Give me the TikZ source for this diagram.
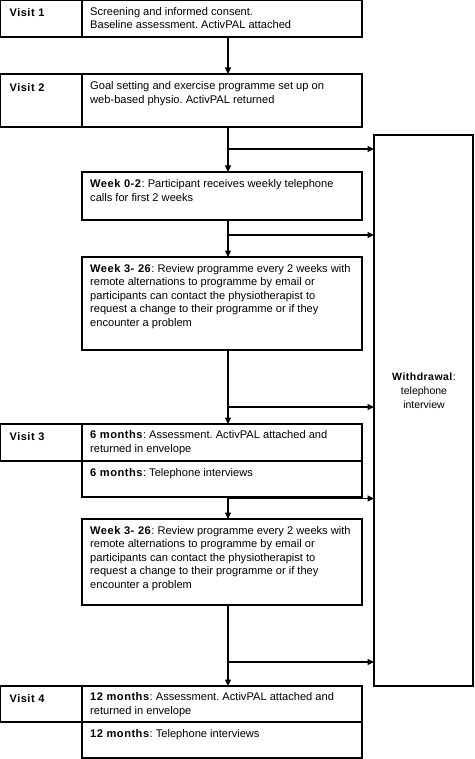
\documentclass[tikz,border=0pt]{standalone}
\usepackage{fontspec}
\setmainfont{Liberation Sans}[BoldFeatures={LetterSpace=4.5}]
\usetikzlibrary{arrows.meta}
\frenchspacing
\begin{document}
\begin{tikzpicture}[x=1pt,y=-1pt,
  box/.style 2 args={draw, line width=1.2pt, anchor=north west, inner sep=0pt, outer sep=0pt, minimum width=#1pt, minimum height=#2pt},
  txt/.style={anchor=north west, inner sep=0pt, align=left, font=\fontsize{11.1}{13.5}\selectfont},
  lab/.style={anchor=north west, inner sep=0pt, font=\fontsize{11}{13}\selectfont\bfseries},
  arr/.style={-{Triangle[length=6.5pt,width=6pt]}, line width=1.5pt}]
\useasboundingbox (0,0) rectangle (474,759);
% boxes
\node[box={81.5}{36.5}] (v1lab) at (0.5,0.5) {};
\node[box={280}{36.5}] (v1) at (82,0.5) {};
\node[box={81.5}{53}] (v2lab) at (0.5,74) {};
\node[box={280}{53}] (v2) at (82,74) {};
\node[box={280}{48}] (w02) at (82,172) {};
\node[box={280}{93}] (w3a) at (82,257) {};
\node[box={81.5}{37}] (v3lab) at (0.5,424) {};
\node[box={280}{37}] (v3a) at (82,424) {};
\node[box={280}{36}] (v3b) at (82,461) {};
\node[box={280}{86}] (w3b) at (82,519) {};
\node[box={81.5}{36}] (v4lab) at (0.5,686) {};
\node[box={280}{36}] (v4a) at (82,686) {};
\node[box={280}{36}] (v4b) at (82,722) {};
\node[box={99}{551}] (wd) at (374,135) {};
% texts
\node[lab] (t1l) at ([shift={(9,8)}]v1lab.north west) {Visit 1};
\node[txt] (t1) at ([shift={(8,6.5)}]v1.north west) {Screening and informed consent.\\Baseline assessment. ActivPAL attached};
\node[lab] (t2l) at ([shift={(9,9)}]v2lab.north west) {Visit 2};
\node[txt] (t2) at ([shift={(8,7.5)}]v2.north west) {Goal setting and exercise programme set up on\\web-based physio. ActivPAL returned};
\node[txt] (t3) at ([shift={(8,7.5)}]w02.north west) {\textbf{Week 0-2}: Participant receives weekly telephone\\calls for first 2 weeks};
\node[txt] (t4) at ([shift={(8,7)}]w3a.north west) {\textbf{Week 3- 26}: Review programme every 2 weeks with\\remote alternations to programme by email or\\participants can contact the physiotherapist to\\request a change to their programme or if they\\encounter a problem};
\node[lab] (t5l) at ([shift={(9,8)}]v3lab.north west) {Visit 3};
\node[txt] (t5) at ([shift={(8,6.5)}]v3a.north west) {\textbf{6 months}: Assessment. ActivPAL attached and\\returned in envelope};
\node[txt] (t6) at ([shift={(8,7)}]v3b.north west) {\textbf{6 months}: Telephone interviews};
\node[txt] (t7) at ([shift={(8,7)}]w3b.north west) {\textbf{Week 3- 26}: Review programme every 2 weeks with\\remote alternations to programme by email or\\participants can contact the physiotherapist to\\request a change to their programme or if they\\encounter a problem};
\node[lab] (t8l) at ([shift={(9,8)}]v4lab.north west) {Visit 4};
\node[txt] (t8) at ([shift={(8,6.5)}]v4a.north west) {\textbf{12 months}: Assessment. ActivPAL attached and\\returned in envelope};
\node[txt] (t9) at ([shift={(8,7)}]v4b.north west) {\textbf{12 months}: Telephone interviews};
\node[txt, anchor=center, align=center, font=\fontsize{10.5}{14}\selectfont] (t10) at (424,391) {\textbf{Withdrawal}:\\telephone\\interview};
% connectors
\coordinate (cx) at (228,0);
\coordinate (b1) at (228,149);
\coordinate (b2) at (228,235);
\coordinate (b3) at (228,407);
\coordinate (b4) at (228,498.5);
\coordinate (b5) at (228,662);
\draw[arr] (v1.south -| cx) -- (v2.north -| cx);
\draw[arr] (v2.south -| cx) -- (w02.north -| cx);
\draw[arr] (w02.south -| cx) -- (w3a.north -| cx);
\draw[arr] (w3a.south -| cx) -- (v3a.north -| cx);
\draw[arr] (v3b.south -| cx) -- (w3b.north -| cx);
\draw[arr] (w3b.south -| cx) -- (v4a.north -| cx);
\draw[arr] (b1) -- (b1 -| wd.west);
\draw[arr] (b2) -- (b2 -| wd.west);
\draw[arr] (b3) -- (b3 -| wd.west);
\draw[arr] (b4) -- (b4 -| wd.west);
\draw[arr] (b5) -- (b5 -| wd.west);
\end{tikzpicture}
\end{document}
